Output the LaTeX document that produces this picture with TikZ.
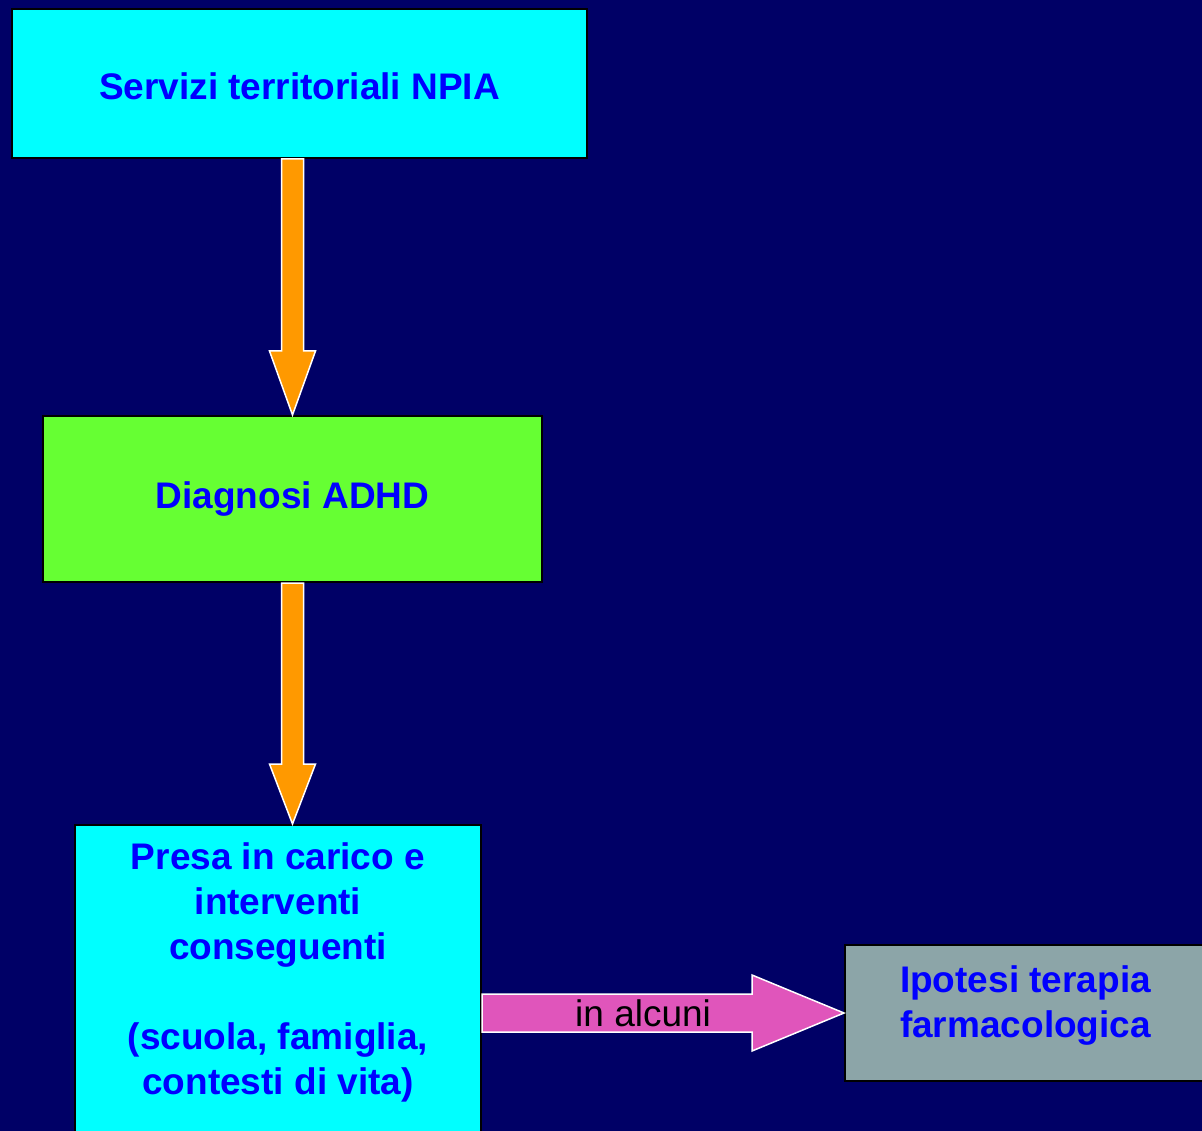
\documentclass[tikz,border=0pt]{standalone}
\usepackage{fontspec}
\setmainfont{Liberation Sans}
\usetikzlibrary{calc}
\definecolor{bgblue}{RGB}{0,0,102}
\definecolor{boxcyan}{RGB}{0,255,255}
\definecolor{boxgreen}{RGB}{102,255,51}
\definecolor{boxgray}{RGB}{140,165,168}
\definecolor{arrorange}{RGB}{255,153,0}
\definecolor{arrpink}{RGB}{224,85,187}
\definecolor{txtblue}{RGB}{0,0,255}
\tikzset{
  box/.style={draw=black,line width=2pt,inner sep=0pt,align=center,
    text=txtblue,font=\fontsize{37}{45}\selectfont\bfseries},
  fatarrow/.style={draw=white,line width=1.5pt,line join=miter}
}
\begin{document}
\begin{tikzpicture}[x=1pt,y=-1pt]
    \fill[bgblue] (0,0) rectangle (1202,1131);
    \useasboundingbox (0,0) rectangle (1202,1131);
    \node[box,fill=boxcyan,minimum width=575,minimum height=149,text height=32pt] (servizi) at (299.5,83.5) {Servizi territoriali NPIA};
    \node[box,fill=boxgreen,minimum width=499,minimum height=166] (diagnosi) at (292.5,499) {Diagnosi ADHD};
    \node[box,fill=boxcyan,minimum width=406,minimum height=310,text depth=22pt] (presa) at (278,980) {Presa in carico e\\interventi\\conseguenti\\ \\(scuola, famiglia,\\contesti di vita)};
    \node[box,fill=boxgray,minimum width=361,minimum height=136,text depth=22pt] (ipotesi) at (1025.5,1013) {Ipotesi terapia\\farmacologica};
    \coordinate (top1) at (diagnosi.north|-servizi.south);
    \draw[fatarrow,fill=arrorange] ($(top1)+(-11,0)$) -- ($(diagnosi.north)+(-11,-64)$) -- ($(diagnosi.north)+(-23,-64)$)
        -- (diagnosi.north) -- ($(diagnosi.north)+(23,-64)$) -- ($(diagnosi.north)+(11,-64)$) -- ($(top1)+(11,0)$) -- cycle;
    \coordinate (end2) at (diagnosi.south|-presa.north);
    \draw[fatarrow,fill=arrorange] ($(diagnosi.south)+(-11,0)$) -- ($(end2)+(-11,-60)$) -- ($(end2)+(-23,-60)$)
        -- (end2) -- ($(end2)+(23,-60)$) -- ($(end2)+(11,-60)$) -- ($(diagnosi.south)+(11,0)$) -- cycle;
    \coordinate (start) at (presa.east|-ipotesi.west);
    \draw[fatarrow,fill=arrpink] ($(start)+(0,-19)$) -- ($(ipotesi.west)+(-92,-19)$) -- ($(ipotesi.west)+(-92,-38)$)
        -- (ipotesi.west) -- ($(ipotesi.west)+(-92,38)$) -- ($(ipotesi.west)+(-92,19)$) -- ($(start)+(0,19)$) -- cycle;
    \node[font=\fontsize{37}{45}\selectfont] (alcuni) at ($(start)!0.445!(ipotesi.west)$) {in alcuni};
\end{tikzpicture}
\end{document}
